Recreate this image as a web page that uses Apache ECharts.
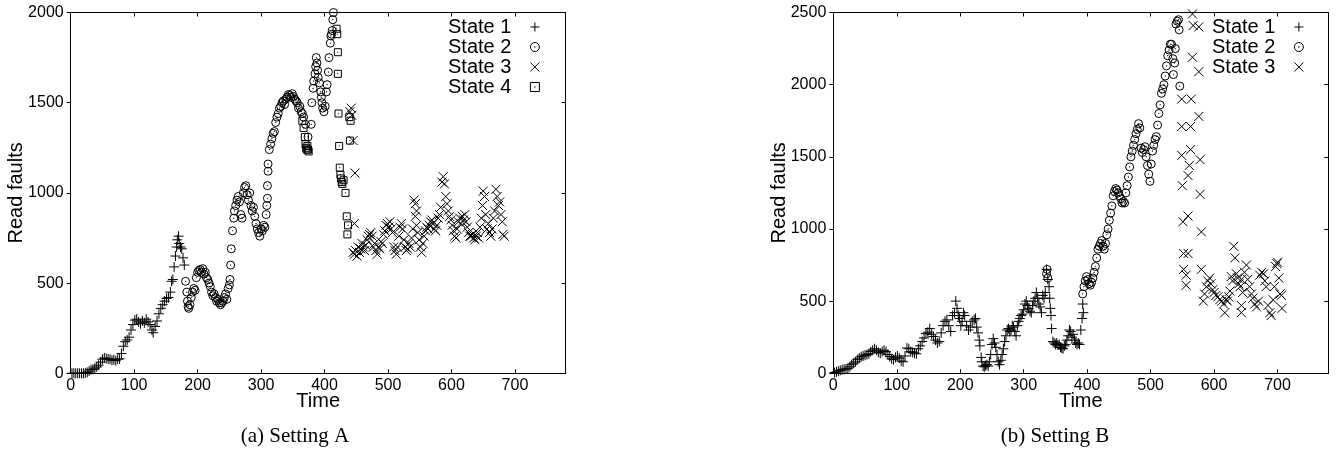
<!DOCTYPE html>
<html><head><meta charset="utf-8">
<script src="https://cdn.jsdelivr.net/npm/echarts@6/dist/echarts.min.js"></script>
<style>html,body{margin:0;padding:0;background:#fff}#c{width:1343px;height:454px}</style>
</head><body><div id="c"></div>
<script>
// ---------- Data: Setting A ----------
const xTicks = [0,100,200,300,400,500,600,700];
const yTicksA = [0,500,1000,1500,2000];
const yTicksB = [0,500,1000,1500,2000,2500];
const legendA = ['State 1','State 2','State 3','State 4'];
const legendB = ['State 1','State 2','State 3'];
const captions = ['(a) Setting A','(b) Setting B'];

const aState1 = [[2,0],[5,0],[8,0],[11,0],[14,0],[17,0],[20,0],[23,2],[26,5],[29,12],[32,20],[35,22],[38,28],[41,35],[44,45],[47,62],[50,78],[53,85],[56,82],[59,80],[62,78],[65,72],[68,75],[71,70],[74,78],[77,80],[80,110],[83,150],[86,175],[89,185],[92,200],[95,240],[98,270],[101,295],[104,300],[107,285],[110,275],[113,290],[116,280],[119,300],[122,285],[125,270],[128,240],[130,225],[133,260],[136,290],[139,330],[142,360],[145,380],[148,400],[151,415],[154,420],[157,450],[159,510],[161,520],[163,590],[165,650],[167,700],[168,740],[170,760],[171,720],[173,700],[175,690],[177,640],[179,600]];
const aState2 = [[181,510],[183,450],[184,400],[185,370],[186,360],[188,380],[190,420],[192,450],[194,470],[196,460],[198,530],[200,560],[202,570],[204,575],[206,560],[208,580],[210,550],[212,560],[214,530],[216,520],[218,500],[220,480],[222,450],[224,430],[226,440],[228,420],[230,400],[232,410],[234,390],[236,380],[238,390],[240,400],[242,420],[244,440],[246,410],[248,470],[250,490],[251,520],[252,600],[253,690],[255,790],[257,860],[258,900],[260,930],[262,960],[264,980],[266,950],[268,880],[270,860],[272,1000],[274,1030],[276,1040],[278,990],[280,960],[282,1000],[284,930],[286,900],[288,920],[290,870],[292,830],[294,800],[296,780],[298,760],[300,800],[302,790],[304,820],[306,810],[308,880],[309,930],[310,970],[310,1040],[311,1120],[311,1160],[313,1240],[315,1270],[317,1300],[319,1330],[321,1340],[323,1390],[325,1420],[327,1440],[329,1470],[331,1480],[333,1500],[335,1510],[337,1490],[339,1520],[341,1530],[343,1545],[345,1540],[347,1530],[349,1550],[351,1535],[353,1520],[355,1510],[357,1500],[359,1470],[361,1480],[363,1450],[365,1440],[367,1420],[370,1380],[374,1310],[379,1380],[380,1500],[382,1580],[383,1620],[385,1660],[386,1700],[387,1750],[388,1720],[389,1680],[390,1640],[392,1610],[394,1560],[395,1530],[396,1500],[397,1470],[399,1450],[401,1480],[403,1560],[404,1600],[406,1670],[407,1750],[409,1830],[410,1870],[411,1880],[412,1900],[413,1960],[414,2000]];
const aState3 = [[440,1450],[442,1470],[443,1430],[445,1290],[448,1110],[447,830],[445,670],[447,660],[449,680],[451,650],[453,700],[455,670],[457,690],[459,720],[461,700],[463,680],[465,710],[467,740],[469,760],[471,770],[473,780],[475,760],[477,700],[479,720],[481,680],[483,660],[485,700],[487,690],[489,730],[491,720],[493,770],[495,790],[497,820],[499,830],[501,810],[503,840],[505,800],[507,780],[509,700],[511,680],[513,660],[515,700],[517,760],[519,810],[521,830],[523,800],[525,740],[527,700],[529,680],[531,690],[533,720],[535,700],[537,750],[539,800],[541,960],[543,940],[545,900],[543,870],[545,820],[547,780],[549,740],[551,700],[553,670],[555,720],[557,760],[559,790],[561,810],[563,800],[565,820],[567,840],[569,850],[571,830],[573,800],[575,790],[577,820],[579,860],[581,880],[583,920],[585,1060],[587,1090],[589,1050],[591,980],[593,940],[595,900],[597,870],[599,850],[601,820],[603,790],[605,760],[607,750],[609,800],[611,840],[613,860],[615,830],[617,870],[619,850],[621,880],[623,840],[625,810],[627,780],[629,760],[631,760],[633,770],[635,750],[637,740],[639,760],[641,780],[643,750],[645,810],[647,860],[649,930],[650,1010],[652,980],[654,880],[656,800],[658,830],[660,780],[662,760],[664,800],[666,860],[668,900],[670,1020],[672,980],[674,930],[676,950],[678,880],[680,840],[681,770],[683,760]];
const aState4 = [[365,1400],[367,1360],[369,1310],[370,1270],[371,1250],[372,1240],[373,1260],[374,1240],[375,1230],[419,1910],[420,1880],[421,1780],[421,1660],[422,1440],[423,1260],[424,1140],[425,1100],[426,1080],[427,1060],[428,1050],[430,1070],[433,1000],[435,870],[437,820],[436,770],[439,1420],[440,1290],[441,1400]];

// ---------- Data: Setting B ----------
const bState1 = [[2,5],[5,10],[8,15],[11,20],[14,25],[17,28],[20,30],[23,35],[26,45],[29,60],[32,70],[35,80],[38,95],[41,105],[44,115],[47,120],[50,125],[53,130],[56,135],[59,150],[62,160],[65,170],[68,160],[71,145],[74,140],[77,150],[80,160],[83,150],[86,130],[89,115],[92,100],[95,95],[98,110],[101,120],[104,105],[107,85],[110,80],[113,120],[116,175],[119,170],[122,150],[125,145],[128,140],[131,135],[134,170],[137,190],[140,220],[143,245],[146,275],[149,285],[152,310],[155,270],[158,255],[161,230],[164,210],[167,220],[170,280],[173,330],[176,360],[179,370],[182,330],[185,290],[188,400],[191,420],[193,500],[195,450],[197,400],[199,380],[201,330],[203,360],[205,420],[207,400],[210,330],[213,300],[216,320],[219,360],[222,370],[224,380],[226,320],[228,280],[230,230],[231,190],[233,110],[234,80],[236,50],[238,45],[240,55],[242,60],[244,50],[246,80],[248,130],[250,200],[252,240],[254,210],[256,180],[258,130],[260,80],[262,60],[264,90],[266,130],[268,170],[270,220],[272,260],[274,300],[276,310],[278,290],[280,300],[282,330],[284,320],[286,290],[288,260],[290,330],[292,360],[294,380],[296,400],[298,410],[300,440],[302,480],[304,500],[306,470],[308,450],[310,430],[312,420],[314,470],[316,500],[318,520],[320,560],[322,520],[324,480],[326,460],[328,420],[330,540],[332,520],[334,560],[336,720],[338,650],[340,600],[341,520],[342,450],[343,400],[344,310],[346,220],[348,210],[350,200],[352,210],[354,195],[356,200],[358,180],[360,175],[362,170],[364,190],[366,200],[368,230],[370,260],[372,300],[374,290],[376,250],[378,270],[380,230],[382,210],[384,200],[386,210],[388,200],[390,300],[392,380],[393,480],[394,420]];
const bState2 = [[336,690],[338,660],[337,720],[393,550],[395,600],[397,640],[399,670],[401,650],[403,620],[405,610],[407,630],[409,660],[411,700],[413,740],[415,800],[417,860],[419,880],[421,900],[423,920],[425,880],[427,860],[429,900],[431,960],[433,1000],[435,1060],[437,1110],[439,1160],[441,1230],[443,1260],[445,1280],[447,1270],[449,1250],[451,1230],[453,1210],[455,1180],[457,1190],[459,1180],[461,1250],[463,1300],[465,1360],[467,1430],[469,1500],[471,1540],[473,1580],[475,1620],[477,1660],[479,1690],[481,1730],[483,1700],[485,1560],[487,1530],[489,1550],[491,1570],[493,1500],[495,1440],[497,1380],[499,1330],[501,1450],[503,1540],[505,1580],[507,1620],[509,1640],[511,1720],[513,1800],[515,1860],[517,1940],[519,1970],[521,2000],[523,2060],[525,2130],[527,2200],[529,2240],[531,2280],[533,2280],[535,2180],[536,2070],[538,2150],[539,2250],[540,2420],[542,2440],[544,2450],[545,2380],[546,1990]];
const bState3 = [[566,2490],[567,2410],[576,2400],[566,2190],[576,2090],[549,1900],[564,1900],[549,1710],[563,1710],[576,1780],[549,1510],[563,1550],[578,1480],[561,1440],[559,1370],[550,1300],[578,1240],[551,1050],[559,1090],[580,980],[552,830],[559,830],[552,720],[556,680],[556,610],[580,720],[585,550],[583,500],[588,600],[590,640],[593,660],[595,620],[598,580],[600,560],[603,540],[606,530],[609,510],[612,500],[615,480],[617,420],[619,510],[621,500],[623,530],[625,570],[627,670],[629,640],[631,880],[633,800],[635,690],[637,660],[639,620],[641,600],[643,650],[643,470],[643,420],[645,560],[648,700],[651,750],[653,650],[656,600],[659,550],[661,520],[664,480],[667,460],[670,500],[672,680],[675,700],[678,690],[680,640],[682,600],[685,470],[688,420],[690,400],[693,510],[695,600],[697,740],[699,760],[700,770],[702,660],[704,550],[706,540],[707,450]];

// ---------- Styling ----------
const SANS = 'Liberation Sans';
const SYM = {
  plus: 'path://M0,5L10,5M5,0L5,10',
  circ: 'path://M10,5A5,5 0 1,1 0,5A5,5 0 1,1 10,5ZM5.35,5A0.35,0.35 0 1,1 4.65,5A0.35,0.35 0 1,1 5.35,5Z',
  cross: 'path://M0,0L10,10M10,0L0,10',
  sq: 'path://M0,0L10,0L10,10L0,10ZM5.35,5A0.35,0.35 0 1,1 4.65,5A0.35,0.35 0 1,1 5.35,5Z'
};
const SIZE = {plus: 10, circ: 8, cross: 9, sq: 7};
const markStyle = {color: 'none', borderColor: '#000', borderWidth: 1, opacity: 1};

function scat(name, data, sym, gi) {
  return {
    type: 'scatter', name: name, data: data,
    xAxisIndex: gi * 2, yAxisIndex: gi * 2,
    symbol: SYM[sym], symbolSize: SIZE[sym], symbolKeepAspect: true,
    itemStyle: markStyle, emphasis: {disabled: true}, silent: true, animation: false
  };
}

const grids = [
  {left: 70.7, top: 12.5, width: 495, height: 360.8},
  {left: 833.3, top: 12.5, width: 495, height: 360.8}
];
const axisLine = {show: true, onZero: false, lineStyle: {color: '#000', width: 1}};
function xBottom(gi) {
  return {
    type: 'value', gridIndex: gi, position: 'bottom', min: 0, max: 780, interval: 100,
    axisLine: axisLine, splitLine: {show: false},
    axisTick: {inside: true, length: 4, lineStyle: {color: '#000'}},
    axisLabel: {fontFamily: SANS, fontSize: 16, color: '#000', margin: 4, showMaxLabel: false,
      formatter: v => (xTicks.indexOf(v) >= 0 ? String(v) : '')},
    name: 'Time', nameLocation: 'middle', nameGap: 18, nameMoveOverlap: false,
    nameTextStyle: {fontFamily: SANS, fontSize: 20, color: '#000'}
  };
}
function xTop(gi) {
  return {
    type: 'value', gridIndex: gi, position: 'top', min: 0, max: 780, interval: 100,
    axisLine: axisLine, splitLine: {show: false},
    axisTick: {inside: true, length: 4, lineStyle: {color: '#000'}},
    axisLabel: {show: false}
  };
}
function yLeft(gi, max, ticks) {
  return {
    type: 'value', gridIndex: gi, position: 'left', min: 0, max: max, interval: 500,
    axisLine: axisLine, splitLine: {show: false},
    axisTick: {inside: false, length: 4, lineStyle: {color: '#000'}},
    axisLabel: {fontFamily: SANS, fontSize: 16, color: '#000', margin: 7,
      formatter: v => (ticks.indexOf(v) >= 0 ? String(v) : '')},
    name: 'Read faults', nameLocation: 'middle', nameGap: 44, nameMoveOverlap: false,
    nameTextStyle: {fontFamily: SANS, fontSize: 20, color: '#000'}
  };
}
function yRight(gi, max) {
  return {
    type: 'value', gridIndex: gi, position: 'right', min: 0, max: max, interval: 500,
    axisLine: axisLine, splitLine: {show: false},
    axisTick: {inside: true, length: 4, lineStyle: {color: '#000'}},
    axisLabel: {show: false}
  };
}
function legend(left, names) {
  return {
    orient: 'vertical', left: left, top: 17, align: 'right', padding: 0,
    itemWidth: 9, itemHeight: 9, itemGap: 0, selectedMode: false,
    itemStyle: {color: 'none', borderColor: '#000', borderWidth: 1},
    data: names,
    textStyle: {fontFamily: SANS, fontSize: 20, color: '#000', lineHeight: 19.4, padding: [0, 14, 0, 0]}
  };
}

const capStyle = {fontFamily: 'Liberation Serif', fontSize: 21, fontWeight: 'normal', color: '#000'};
const option = {
  backgroundColor: '#fff',
  animation: false,
  grid: grids,
  xAxis: [xBottom(0), xTop(0), xBottom(1), xTop(1)],
  yAxis: [yLeft(0, 2000, yTicksA), yRight(0, 2000), yLeft(1, 2500, yTicksB), yRight(1, 2500)],
  legend: [legend(448, legendA), legend(1212, legendB)],
  title: [
    {text: captions[0], left: 290, top: 421, textAlign: 'center', textStyle: capStyle},
    {text: captions[1], left: 1050, top: 421, textAlign: 'center', textStyle: capStyle}
  ],
  series: [
    scat('State 1', aState1, 'plus', 0),
    scat('State 2', aState2, 'circ', 0),
    scat('State 3', aState3, 'cross', 0),
    scat('State 4', aState4, 'sq', 0),
    scat('State 1', bState1, 'plus', 1),
    scat('State 2', bState2, 'circ', 1),
    scat('State 3', bState3, 'cross', 1)
  ]
};
const chart = echarts.init(document.getElementById('c'), null, {renderer: 'canvas'});
chart.setOption(option);
</script></body></html>
